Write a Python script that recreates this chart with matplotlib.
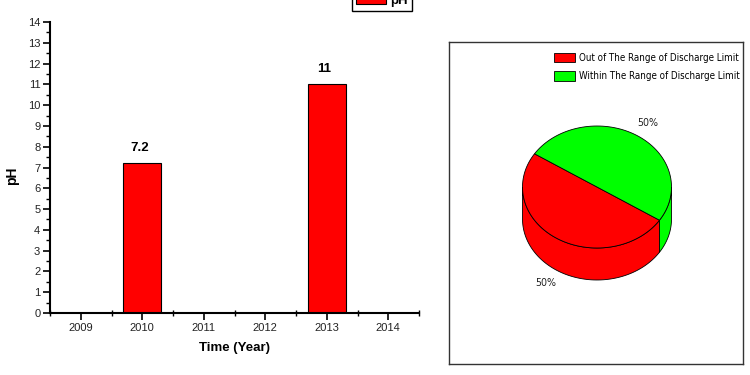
import matplotlib
matplotlib.use('Agg')
import matplotlib.pyplot as plt
import numpy as np
from matplotlib.font_manager import FontProperties
from matplotlib.patches import Polygon, Patch
from matplotlib.ticker import MultipleLocator, FixedLocator

# ---------------- data ----------------
years = ['2009', '2010', '2011', '2012', '2013', '2014']
ph_values = [np.nan, 7.2, np.nan, np.nan, 11, np.nan]
y_ticks = list(range(0, 15))

pie_labels = ['Out of The Range of Discharge Limit', 'Within The Range of Discharge Limit']
pie_values = [50, 50]
pie_colors = ['#ff0000', '#00ff00']
bar_color = '#ff0000'

# ---------------- fonts ----------------
plt.rcParams['font.family'] = ['Liberation Sans', 'DejaVu Sans']

W, H = 750, 375
fig = plt.figure(figsize=(7.5, 3.75), dpi=100)
renderer = fig.canvas.get_renderer()

narrow_fp = FontProperties(family='DejaVu Sans', stretch='condensed')


def text_width(text, fp, size=10):
    fp2 = fp.copy()
    fp2.set_size(size)
    t = fig.text(0, 0, text, fontproperties=fp2)
    w = t.get_window_extent(renderer).width
    t.remove()
    return w


def fit_size(text, target_px, fp):
    return 10 * target_px / text_width(text, fp)


def px_axes(x0, y0, x1, y1):
    return fig.add_axes([x0 / W, 1 - y1 / H, (x1 - x0) / W, (y1 - y0) / H])


# ---------------- bar chart ----------------
ax = px_axes(50, 22, 419, 313)
x = np.arange(len(years))
ax.bar(x, ph_values, width=0.62, color=bar_color, edgecolor='black', linewidth=0.8, zorder=2)
ax.set_xlim(-0.5, len(years) - 0.5)
ax.set_ylim(0, 14)
for s in ('top', 'right'):
    ax.spines[s].set_visible(False)
for s in ('left', 'bottom'):
    ax.spines[s].set_linewidth(1.5)
ax.set_xticks(x)
ax.set_xticklabels(years, fontsize=8, color='#222222')
ax.xaxis.set_minor_locator(FixedLocator(np.arange(-0.5, len(years), 1.0)))
ax.set_yticks(y_ticks)
ax.set_yticklabels([str(v) for v in y_ticks], fontsize=8, color='#222222')
ax.yaxis.set_minor_locator(MultipleLocator(0.5))
ax.tick_params(which='major', direction='out', length=5, width=1.2, pad=2)
ax.tick_params(which='minor', direction='out', length=3, width=1.0)
ax.tick_params(axis='x', which='minor', direction='inout', length=5)
ax.set_xlabel('Time (Year)', fontweight='bold', fontsize=9.5)
ax.xaxis.set_label_coords(0.5, -0.1)
ax.set_ylabel('pH', fontweight='bold', fontsize=10)
ax.yaxis.set_label_coords(-0.084, 0.47)

for xi, v in zip(x, ph_values):
    if not np.isnan(v):
        lbl = f'{v:g}'
        ax.annotate(lbl, (xi, v), xytext=(-2, 7), textcoords='offset points',
                    ha='center', va='bottom', fontweight='bold', fontsize=9.5)

fig.legend(handles=[Patch(facecolor=bar_color, edgecolor='black', linewidth=0.8)], labels=['pH'],
           loc='lower center', bbox_to_anchor=(382 / W, 1 - 11 / H),
           prop=dict(weight='bold', size=9.5), fancybox=False, edgecolor='black',
           framealpha=1, borderpad=0.3, handlelength=2.3, handletextpad=0.3, borderaxespad=0)

# ---------------- 3D pie ----------------
pax = px_axes(449, 42, 743, 364)
pax.set_xlim(449, 743)
pax.set_ylim(364, 42)
pax.set_xticks([])
pax.set_yticks([])
for s in pax.spines.values():
    s.set_color('#333333')
    s.set_linewidth(1)

cx, cy, rx, ry, depth = 597, 187, 74.5, 61, 32
start = 147
fracs = np.array(pie_values, dtype=float) / np.sum(pie_values)
bounds = start + 360 * np.concatenate([[0], np.cumsum(fracs)])


def arc(a, b, dy=0, n=80):
    t = np.radians(np.linspace(a, b, n))
    return np.column_stack([cx + rx * np.cos(t), cy - ry * np.sin(t) + dy])


# side walls (front half: 180..360 degrees)
for i in range(len(pie_values)):
    a, b = bounds[i], bounds[i + 1]
    for k in range(-1, 3):
        lo, hi = max(a, 180 + 360 * k), min(b, 360 + 360 * k)
        if lo < hi:
            pts = np.vstack([arc(lo, hi), arc(hi, lo, dy=depth)])
            pax.add_patch(Polygon(pts, closed=True, facecolor=pie_colors[i],
                                  edgecolor='black', linewidth=0.6, zorder=2))

# top faces
for i in range(len(pie_values)):
    a, b = bounds[i], bounds[i + 1]
    pts = np.vstack([[cx, cy], arc(a, b)])
    pax.add_patch(Polygon(pts, closed=True, facecolor=pie_colors[i], edgecolor='black',
                          linewidth=0.6, zorder=3))

leg_fp = narrow_fp.copy()
leg_fp.set_size(fit_size(pie_labels[1], 160, narrow_fp))
fs_px = leg_fp.get_size_in_points() * 100 / 72

# percentage labels
pct_fp = narrow_fp.copy()
pct_fp.set_size(leg_fp.get_size_in_points() * 1.1)
for i in range(len(pie_values)):
    m = np.radians((bounds[i] + bounds[i + 1]) / 2)
    lx = cx + 1.25 * rx * np.cos(m)
    ly = cy - 1.25 * ry * np.sin(m) + (depth if np.sin(m) < 0 else 0)
    pax.text(lx, ly, f'{fracs[i] * 100:.0f}%', ha='center', va='center',
             fontproperties=pct_fp, color='#222222', zorder=4)

pax.legend(handles=[Patch(facecolor=c, edgecolor='black', linewidth=0.6) for c in pie_colors],
           labels=pie_labels, loc='upper left', bbox_to_anchor=(554, 52.5),
           bbox_transform=pax.transData, frameon=False, borderpad=0, borderaxespad=0,
           handlelength=21 / fs_px, handleheight=11 / fs_px, handletextpad=4 / fs_px,
           labelspacing=8.5 / fs_px, prop=leg_fp)

fig.savefig('out.png', dpi=100)
